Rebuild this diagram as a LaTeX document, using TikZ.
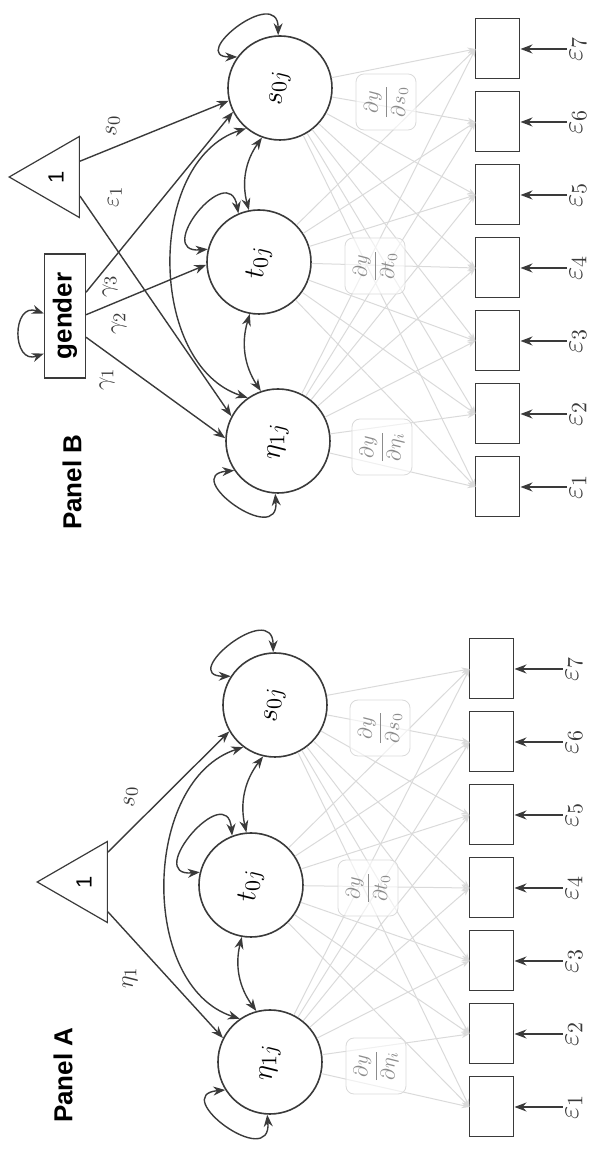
\documentclass[tikz,border=0pt]{standalone}
\usepackage{fontspec}
\setsansfont{Liberation Sans}
\usetikzlibrary{arrows.meta,calc,positioning,shapes.geometric}
\definecolor{ink}{HTML}{3A3A3A}
\definecolor{faint}{HTML}{DADADA}
\definecolor{faintlbl}{HTML}{8C8C8C}

\begin{document}
\begin{tikzpicture}[x=.5pt,y=.5pt,rotate=90,transform shape,
 latent/.style={circle,draw=ink,line width=.8pt,minimum size=52pt,inner sep=0pt,font=\fontsize{15}{18}\selectfont},
 manifest/.style={rectangle,draw=ink,line width=.5pt,minimum width=30pt,minimum height=22pt,inner sep=0pt},
 constant/.style={regular polygon,regular polygon sides=3,draw=ink,line width=.6pt,minimum size=46.8pt,inner sep=0pt,font=\sffamily\fontsize{11}{13}\selectfont},
 covar/.style={rectangle,draw=ink,line width=.6pt,minimum width=62pt,minimum height=20.5pt,font=\sffamily\bfseries\fontsize{13}{15}\selectfont},
 regpath/.style={draw=ink,line width=.7pt,-{Stealth[length=6pt,width=4.5pt]}},
 covpath/.style={draw=ink,line width=.7pt,{Stealth[length=6pt,width=4.5pt]}-{Stealth[length=6pt,width=4.5pt]}},
 loadline/.style={draw=faint,line width=.5pt,-{Stealth[length=4pt,width=3pt]}},
 derivbox/.style={draw=faint,rounded corners=4pt,fill=white,fill opacity=.6,text opacity=1,text=faintlbl,minimum width=28pt,minimum height=30pt,inner sep=1pt,font=\fontsize{10}{12}\selectfont},
 coef/.style={text=ink,font=\fontsize{13}{15}\selectfont,inner sep=1pt},
 errlbl/.style={text=ink,font=\fontsize{15}{17}\selectfont,inner sep=1pt},
 paneltitle/.style={anchor=west,font=\sffamily\bfseries\fontsize{13}{15}\selectfont}]

\useasboundingbox (0,0) rectangle (1151,596);

% Panel A
\node[paneltitle] (titleA) at (21,533) {Panel A};
\node[latent] (etaA) at (89,326) {$\eta_{1j}$};
\node[latent] (tA) at (266,345) {$t_{0j}$};
\node[latent] (sA) at (446,321) {$s_{0j}$};
\node[constant] (triA) at (269,512) {1};
\foreach \i in {1,...,7}{
 \pgfmathsetmacro\ua{44+73*(\i-1)}
 \node[manifest] (yA\i) at (\ua,104) {};
 \node[errlbl] (eA\i) at (\ua,22) {$\varepsilon_{\i}$};
 \draw[regpath] (eA\i) -- (yA\i);
}
\foreach \c in {etaA,tA,sA}{\foreach \i in {1,...,7}{\draw[loadline] (\c) -- (yA\i.north);}}
\node[derivbox] (dA1) at (85,220) {$\displaystyle\frac{\partial y}{\partial \eta_i}$};
\node[derivbox] (dA2) at (263,228) {$\displaystyle\frac{\partial y}{\partial t_0}$};
\node[derivbox] (dA3) at (423,216) {$\displaystyle\frac{\partial y}{\partial s_0}$};
\draw[regpath] ($(triA.corner 2)!.14!(triA.corner 3)$) -- (etaA.63);
\draw[regpath] ($(triA.corner 2)!.86!(triA.corner 3)$) -- (sA.120);
\node[coef] (lA1) at (173,466) {$\eta_1$};
\node[coef] (lA2) at (354,465) {$s_0$};
\draw[covpath] (etaA.35) to[out=72,in=108] (sA.143);
\draw[covpath] (etaA.15) to[bend left=25] (tA.170);
\draw[covpath] (tA.5) to[bend left=25] (sA.167);
\draw[covpath] (etaA.177) to[out=185,in=95,looseness=3] (etaA.122);
\draw[covpath] (tA.76) to[out=95,in=5,looseness=3] (tA.21);
\draw[covpath] (sA.57) to[out=90,in=0,looseness=2.8] (sA.2);

% Panel B
\node[paneltitle] (titleB) at (614,524) {Panel B};
\node[latent] (etaB) at (710,318) {$\eta_{1j}$};
\node[latent] (tB) at (889,337) {$t_{0j}$};
\node[latent] (sB) at (1063,316) {$s_{0j}$};
\node[constant] (triB) at (974,540) {1};
\node[covar] (gender) at (835,531) {gender};
\foreach \i in {1,...,7}{
 \pgfmathsetmacro\ub{664+73*(\i-1)}
 \node[manifest] (yB\i) at (\ub,98) {};
 \node[errlbl] (eB\i) at (\ub,18) {$\varepsilon_{\i}$};
 \draw[regpath] (eB\i) -- (yB\i);
}
\foreach \c in {etaB,tB,sB}{\foreach \i in {1,...,7}{\draw[loadline] (\c) -- (yB\i.north);}}
\node[derivbox] (dB1) at (704,214) {$\displaystyle\frac{\partial y}{\partial \eta_i}$};
\node[derivbox] (dB2) at (885,221) {$\displaystyle\frac{\partial y}{\partial t_0}$};
\node[derivbox] (dB3) at (1049,210) {$\displaystyle\frac{\partial y}{\partial s_0}$};
\draw[regpath] ($(triB.corner 2)!.69!(triB.corner 3)$) -- (sB.104);
\draw[regpath] ($(triB.corner 2)!.27!(triB.corner 3)$) -- (etaB.62);
\draw[regpath] ($(gender.south west)!.33!(gender.south east)$) -- (etaB.87);
\draw[regpath] ($(gender.south west)!.51!(gender.south east)$) -- (tB.93);
\draw[regpath] ($(gender.south west)!.69!(gender.south east)$) -- (sB.117);
\node[coef] (lB1) at (1025,483) {$s_0$};
\node[coef] (lB2) at (954,481) {$\varepsilon_1$};
\node[coef] (lB3) at (865,486) {$\gamma_3$};
\node[coef] (lB4) at (828,477) {$\gamma_2$};
\node[coef] (lB5) at (772,489) {$\gamma_1$};
\draw[covpath] (etaB.35) to[out=72,in=108] (sB.140);
\draw[covpath] (etaB.19) to[bend left=25] (tB.170);
\draw[covpath] (tB.11) to[bend left=25] (sB.160);
\draw[covpath] (etaB.177) to[out=185,in=95,looseness=3] (etaB.124);
\draw[covpath] (tB.76) to[out=95,in=10,looseness=3] (tB.23);
\draw[covpath] (sB.54) to[out=90,in=0,looseness=2.8] (sB.2);
\draw[covpath] ($(gender.north west)!.2!(gender.north east)$) to[out=110,in=70,looseness=2.2] ($(gender.north west)!.52!(gender.north east)$);
\end{tikzpicture}
\end{document}
